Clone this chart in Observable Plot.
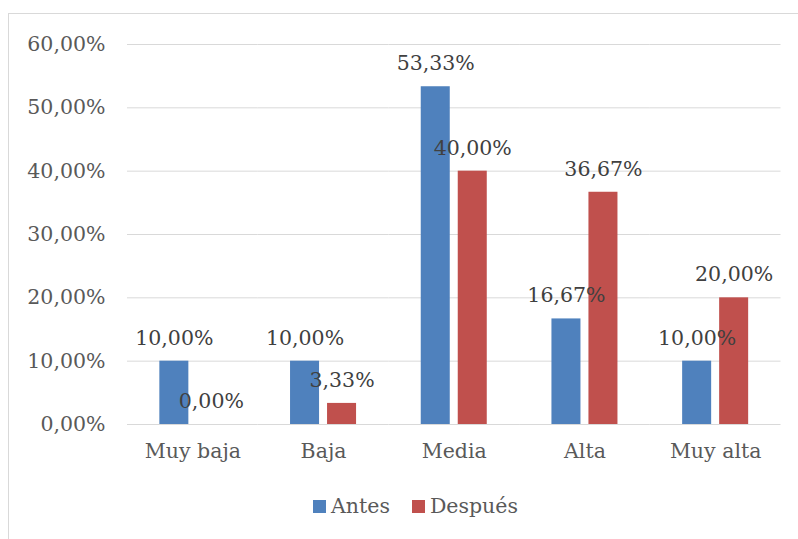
<!DOCTYPE html>
<html>
<head>
<meta charset="utf-8">
<script src="https://cdn.jsdelivr.net/npm/d3@7"></script>
<script src="https://cdn.jsdelivr.net/npm/@observablehq/plot@0.6"></script>
<style>
  body { margin: 0; background: #fff; font-family: "DejaVu Serif", serif; }
  #wrap { position: relative; width: 798px; height: 539px; overflow: hidden; }
  #frame { position: absolute; left: 8px; top: 13px; width: 900px; height: 600px;
           border-left: 1px solid #d9d9d9; border-top: 1px solid #d9d9d9; }
  #chart { position: absolute; left: 0; top: 0; }
  #legend { position: absolute; left: 313px; top: 494px; display: flex; align-items: center;
            font-family: "DejaVu Serif", serif; font-size: 20.5px; color: #595959; }
  .sw { display: inline-block; width: 13px; height: 13px; margin-right: 5px; }
  .item { display: flex; align-items: center; margin-right: 22px; }
</style>
</head>
<body>
<div id="wrap">
  <div id="frame"></div>
  <div id="chart"></div>
  <div id="legend"></div>
</div>
<script>
const categories = ["Muy baja", "Baja", "Media", "Alta", "Muy alta"];
const series = ["Antes", "Después"];
const antes = [0.10, 0.10, 0.5333, 0.1667, 0.10];
const despues = [0.00, 0.0333, 0.40, 0.3667, 0.20];
const yTicks = [0, 0.1, 0.2, 0.3, 0.4, 0.5, 0.6];
const colors = ["#4f81bd", "#c0504d"];

const data = [];
categories.forEach((c, i) => {
  data.push({category: c, series: "Antes", value: antes[i]});
  data.push({category: c, series: "Después", value: despues[i]});
});

const loc = d3.formatLocale({decimal: ",", thousands: ".", grouping: [3], currency: ["", "€"], percent: "%"});
const fmt = loc.format(".2%");

const font = "DejaVu Serif";

const plot = Plot.plot({
  width: 798,
  height: 470,
  marginTop: 44,
  marginBottom: 46,
  marginLeft: 127,
  marginRight: 17.5,
  style: {fontFamily: font, fontSize: "20.5px", background: "transparent", overflow: "visible"},
  fx: {domain: categories, padding: 0, round: false, label: null},
  x: {domain: series, paddingInner: 0.216, paddingOuter: 0.874, round: false, axis: null},
  y: {domain: [0, 0.6], axis: null},
  color: {domain: series, range: colors},
  marks: [
    Plot.gridY(yTicks, {stroke: "#d9d9d9", strokeOpacity: 1, strokeWidth: 1}),
    Plot.axisY(yTicks, {tickSize: 0, tickPadding: 22, tickFormat: fmt, fill: "#595959", fontSize: 20.5, label: null}),
    Plot.axisFx({anchor: "bottom", tickSize: 0, tickPadding: 19, fill: "#595959", fontSize: 20.5, label: null}),
    Plot.barY(data, {fx: "category", x: "series", y: "value", fill: "series"}),
    Plot.text(data, {fx: "category", x: "series", y: "value", text: d => fmt(d.value), dy: -23, fill: "#404040", fontSize: 20.5})
  ]
});
document.getElementById("chart").appendChild(plot);

const legend = document.getElementById("legend");
series.forEach((s, i) => {
  const item = document.createElement("span");
  item.className = "item";
  const sw = document.createElement("span");
  sw.className = "sw";
  sw.style.background = colors[i];
  item.appendChild(sw);
  item.appendChild(document.createTextNode(s));
  legend.appendChild(item);
});
</script>
</body>
</html>
